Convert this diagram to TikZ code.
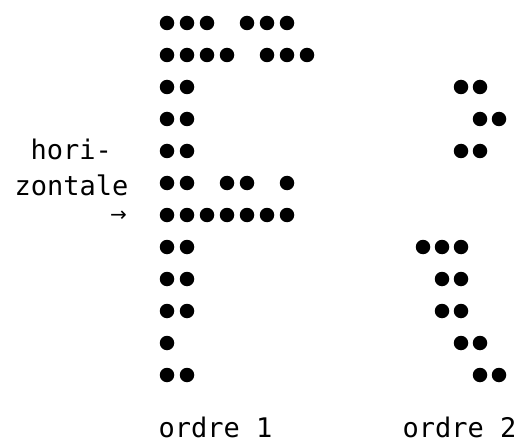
\documentclass[tikz,border=0pt]{standalone}
\usepackage{fontspec}
\newfontfamily\monofont{DejaVu Sans Mono}
\newfontfamily\arrfont{DejaVu Sans}
\begin{document}
\begin{tikzpicture}[x=1pt,y=-1pt,
  dot/.style={circle,fill=black,inner sep=0pt,minimum size=14.5pt},
  lbl/.style={font=\monofont\fontsize{27}{27}\selectfont,inner sep=0pt,anchor=base west},
  arr/.style={font=\arrfont\fontsize{20}{20}\selectfont,inner sep=0pt}]
\useasboundingbox (0,0) rectangle (523,444);
% ordre 1
\foreach \k/\cols in {0/{0,1,2,4,5,6},1/{0,1,2,3,5,6,7},2/{0,1},3/{0,1},4/{0,1},
  5/{0,1,3,4,6},6/{0,1,2,3,4,5,6},7/{0,1},8/{0,1},9/{0,1},10/{0},11/{0,1}}
  \foreach \i in \cols
    \node[dot] (L-\k-\i) at (167+20*\i, 23+32*\k) {};
% ordre 2
\foreach \k/\cols in {2/{2,3},3/{3,4},4/{2,3},7/{0,1,2},8/{1,2},9/{1,2},10/{2,3},11/{3,4}}
  \foreach \j in \cols
    \node[dot] (R-\k-\j) at (423+19*\j, 23+32*\k) {};
% labels
\node[lbl] (hori) at (30.5,160) {hori-};
\node[lbl] (zont) at (14.5,195) {zontale};
\node[arr] (arrow) at (118.5,216) {→};
\node[lbl] (o1) at (158.5,437) {ordre 1};
\node[lbl] (o2) at (402.5,437) {ordre 2};
\end{tikzpicture}
\end{document}
